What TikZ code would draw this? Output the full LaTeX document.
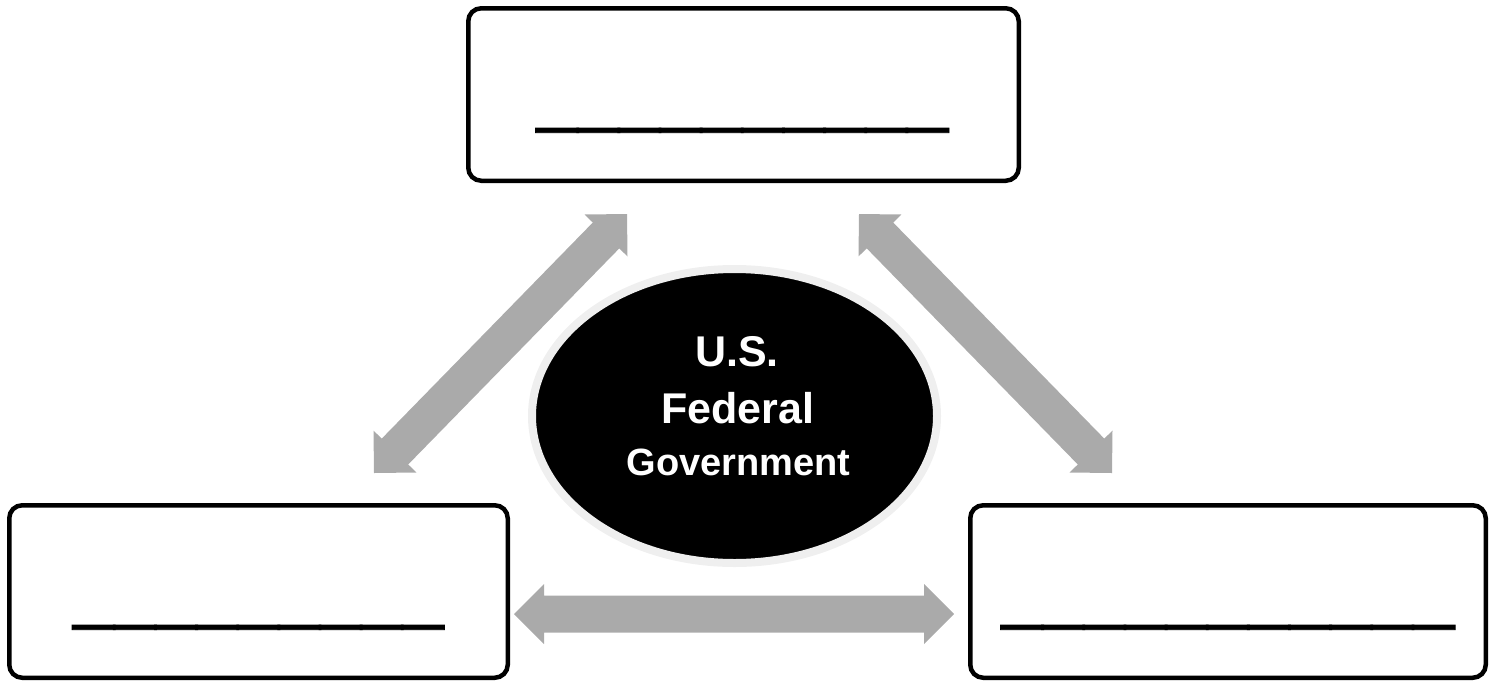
\documentclass[tikz,border=0pt]{standalone}
\usepackage{fontspec}
\setmainfont{Liberation Sans}
\newfontfamily\ulfont[FakeBold=1.2]{Liberation Sans}
\usetikzlibrary{calc,shapes.geometric}
\definecolor{arrowgray}{HTML}{AAAAAA}
\definecolor{rimgray}{HTML}{EFEFEF}
\newcommand\dblarrow[2]{%
  \fill[arrowgray] (#1)
    -- ($(#1)!30pt!(#2)!30pt!90:(#2)$)
    -- ($(#1)!30pt!(#2)!18.5pt!90:(#2)$)
    -- ($(#2)!30pt!(#1)!18.5pt!-90:(#1)$)
    -- ($(#2)!30pt!(#1)!30pt!-90:(#1)$)
    -- (#2)
    -- ($(#2)!30pt!(#1)!30pt!90:(#1)$)
    -- ($(#2)!30pt!(#1)!18.5pt!90:(#1)$)
    -- ($(#1)!30pt!(#2)!18.5pt!-90:(#2)$)
    -- ($(#1)!30pt!(#2)!30pt!-90:(#2)$)
    -- cycle;}
\tikzset{
  blankbox/.style={draw=black, line width=4.5pt, rounded corners=13pt, fill=white,
    minimum height=172.5pt, inner sep=0pt},
  blankline/.style={font=\ulfont\fontsize{74}{74}\selectfont, inner sep=0pt, anchor=base},
  govtext/.style={text=white, inner sep=0pt, anchor=base},
}
\begin{document}
\begin{tikzpicture}[x=1pt,y=-1pt]
\useasboundingbox (0,0) rectangle (1496,681);
% boxes
\node[blankbox, minimum width=550.5pt] (top) at (743.5,94.5) {};
\node[blankbox, minimum width=498.5pt] (left) at (258.5,591.5) {};
\node[blankbox, minimum width=515.5pt] (right) at (1228,591.5) {};
\node[blankline] (topline) at (742.5,118) {\_\_\_\_\_\_\_\_\_\_};
\node[blankline] (leftline) at (258.5,615) {\_\_\_\_\_\_\_\_\_};
\node[blankline] (rightline) at (1228,615) {\_\_\_\_\_\_\_\_\_\_\_};
% ellipse
\node[ellipse, fill=black, draw=rimgray, line width=8pt, minimum width=405pt,
  minimum height=294pt, inner sep=0pt] (gov) at (734.5,416) {};
\node[govtext, font=\bfseries\fontsize{43}{43}\selectfont] (t1) at (737,366) {U.S.};
\node[govtext, font=\bfseries\fontsize{43}{43}\selectfont] (t2) at (738,423) {Federal};
\node[govtext, font=\bfseries\fontsize{38}{38}\selectfont] (t3) at (738.5,475) {Government};
% arrow end points
\coordinate (la) at (374,473);
\coordinate (lb) at (627,214);
\coordinate (ra) at (859,214);
\coordinate (rb) at (1112,473);
\coordinate (ba) at (514,614);
\coordinate (bb) at (954,614);
\dblarrow{la}{lb}
\dblarrow{ra}{rb}
\dblarrow{ba}{bb}
\end{tikzpicture}
\end{document}
